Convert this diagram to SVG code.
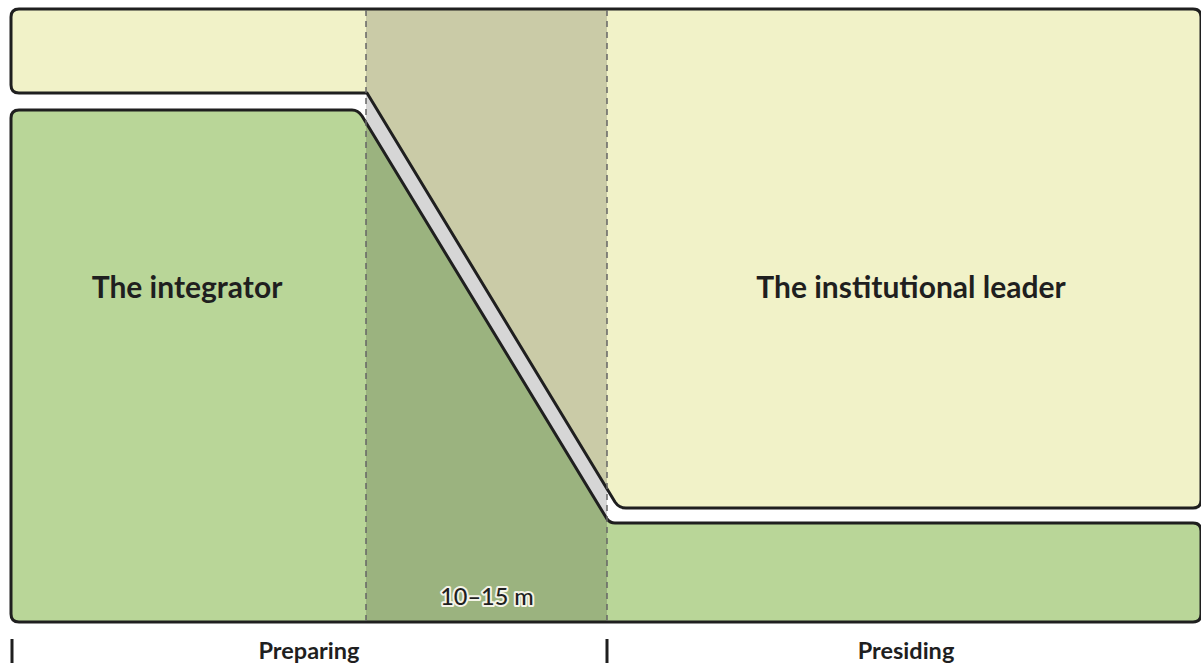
<svg xmlns="http://www.w3.org/2000/svg" width="1201" height="663" viewBox="0 0 1201 663">
  <style>
    .outline { stroke: #1f1f1f; stroke-width: 3; stroke-linejoin: round; }
    .yellow { fill: #f1f2c8; }
    .green { fill: #b9d698; }
    .divider { stroke: #666; stroke-width: 1.5; stroke-dasharray: 6 5; fill: none; }
    .tick { stroke: #1f1f1f; stroke-width: 3; }
    .role { font-family: Lato, "Open Sans", sans-serif; font-weight: 700; font-size: 30px; fill: #1f1f1f; text-anchor: middle; }
    .phase { font-family: Lato, "Open Sans", sans-serif; font-weight: 700; font-size: 23.5px; fill: #1f1f1f; text-anchor: middle; }
    .span { font-family: Lato, "Open Sans", sans-serif; font-weight: 500; font-size: 23.5px; fill: #1f1f1f; text-anchor: middle; stroke: #f4f4e8; stroke-width: 4; paint-order: stroke; stroke-linejoin: round; }
  </style>

  <!-- fills of the two role areas -->
  <g id="institutional-leader-fill">
    <path class="yellow" d="M 11,17 Q 11,9 19,9 L 1193,9 Q 1201,9 1201,17 L 1201,500 Q 1201,508 1193,508 L 626,508 Q 619,508 615,502 L 367,93 L 19,93 Q 11,93 11,85 Z"/>
  </g>
  <g id="integrator-fill">
    <path class="green" d="M 11,118 Q 11,110 19,110 L 352,110 Q 358,110 362,116 L 607,519 Q 610,523 615,523 L 1193,523 Q 1201,523 1201,531 L 1201,614 Q 1201,622 1193,622 L 19,622 Q 11,622 11,614 Z"/>
  </g>

  <!-- transition band shading -->
  <rect id="transition-band" x="366" y="9" width="241" height="613" fill="#000" fill-opacity="0.16"/>

  <!-- outlines -->
  <g id="institutional-leader">
    <path class="outline" fill="none" d="M 11,17 Q 11,9 19,9 L 1193,9 Q 1201,9 1201,17 L 1201,500 Q 1201,508 1193,508 L 626,508 Q 619,508 615,502 L 367,93 L 19,93 Q 11,93 11,85 Z"/>
    <text class="role" x="911" y="298">The institutional leader</text>
  </g>
  <g id="integrator">
    <path class="outline" fill="none" d="M 11,118 Q 11,110 19,110 L 352,110 Q 358,110 362,116 L 607,519 Q 610,523 615,523 L 1193,523 Q 1201,523 1201,531 L 1201,614 Q 1201,622 1193,622 L 19,622 Q 11,622 11,614 Z"/>
    <text class="role" x="187" y="298">The integrator</text>
  </g>

  <!-- dashed boundaries of the transition -->
  <g id="connectors">
    <line class="divider" x1="366" y1="10" x2="366" y2="621"/>
    <line class="divider" x1="607" y1="10" x2="607" y2="621"/>
  </g>

  <g id="transition-label">
    <text class="span" x="487" y="605">10–15 m</text>
  </g>

  <!-- phase axis -->
  <g id="phases">
    <line class="tick" x1="12" y1="639" x2="12" y2="663"/>
    <line class="tick" x1="607" y1="639" x2="607" y2="663"/>
    <text class="phase" x="309" y="659">Preparing</text>
    <text class="phase" x="906" y="659">Presiding</text>
  </g>
</svg>
